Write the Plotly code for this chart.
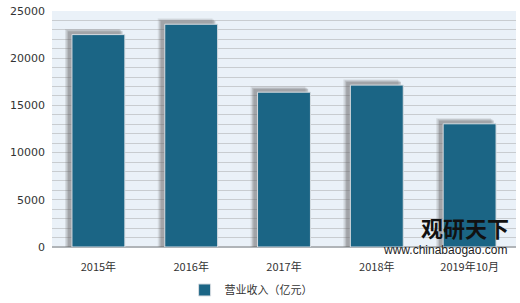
import plotly.graph_objects as go

categories = ["2015年", "2016年", "2017年", "2018年", "2019年10月"]
revenue = [22500, 23600, 16400, 17150, 13050]
series_name = "营业收入（亿元）"
y_tickvals = [0, 5000, 10000, 15000, 20000, 25000]
y_ticktext = ["0", "5000", "10000", "15000", "20000", "25000"]

BAR_W = 0.57
fig = go.Figure()

# soft shadow layers behind bars
for dx, dy, alpha in [(-0.075, 600, 0.15), (-0.06, 480, 0.22), (-0.045, 360, 0.3)]:
    fig.add_trace(go.Bar(
        x=categories, y=[v + dy for v in revenue],
        width=BAR_W + 0.02, offset=-BAR_W / 2 + dx,
        marker=dict(color=f"rgba(100,100,100,{alpha})", line=dict(width=0)),
        showlegend=False, hoverinfo="skip",
    ))

fig.add_trace(go.Bar(
    x=categories, y=revenue, name=series_name,
    width=BAR_W, offset=-BAR_W / 2,
    marker=dict(color="#1B6585", line=dict(color="#d8dde2", width=1)),
))

fig.add_annotation(text="<b>观研天下</b>", xref="paper", yref="paper", x=0.99, y=0.085,
                   xanchor="right", yanchor="middle", showarrow=False,
                   font=dict(family="Noto Sans CJK SC", size=22, color="#111"))
fig.add_annotation(text="www.chinabaogao.com", xref="paper", yref="paper", x=0.985, y=-0.012,
                   xanchor="right", yanchor="middle", showarrow=False,
                   font=dict(family="Liberation Sans", size=12, color="#222"))

fig.update_layout(
    width=520, height=303,
    margin=dict(l=52, r=4, t=11, b=56, autoexpand=False),
    paper_bgcolor="white", plot_bgcolor="#EAF1F8",
    barmode="overlay", bargap=0.4,
    font=dict(family="Noto Sans CJK SC, DejaVu Sans", size=11, color="#333"),
    showlegend=True,
    legend=dict(orientation="h", x=0.355, y=0.043, xref="container", yref="container",
                xanchor="left", yanchor="middle", itemwidth=30,
                bgcolor="white", font=dict(size=11, color="#333")),
    xaxis=dict(showgrid=False, ticks="", tickfont=dict(family="Noto Sans CJK SC", size=11),
               ticklabelstandoff=12),
    yaxis=dict(range=[0, 25000], tickvals=y_tickvals, ticktext=y_ticktext, showgrid=True,
               gridcolor="#c8ccd0", gridwidth=1, zeroline=True, zerolinecolor="#b0b4b8",
               minor=dict(dtick=1000, showgrid=True, gridcolor="#c8ccd0", gridwidth=1),
               tickfont=dict(family="DejaVu Sans", size=11), ticklabelstandoff=6),
)

fig.write_html("out.html")
